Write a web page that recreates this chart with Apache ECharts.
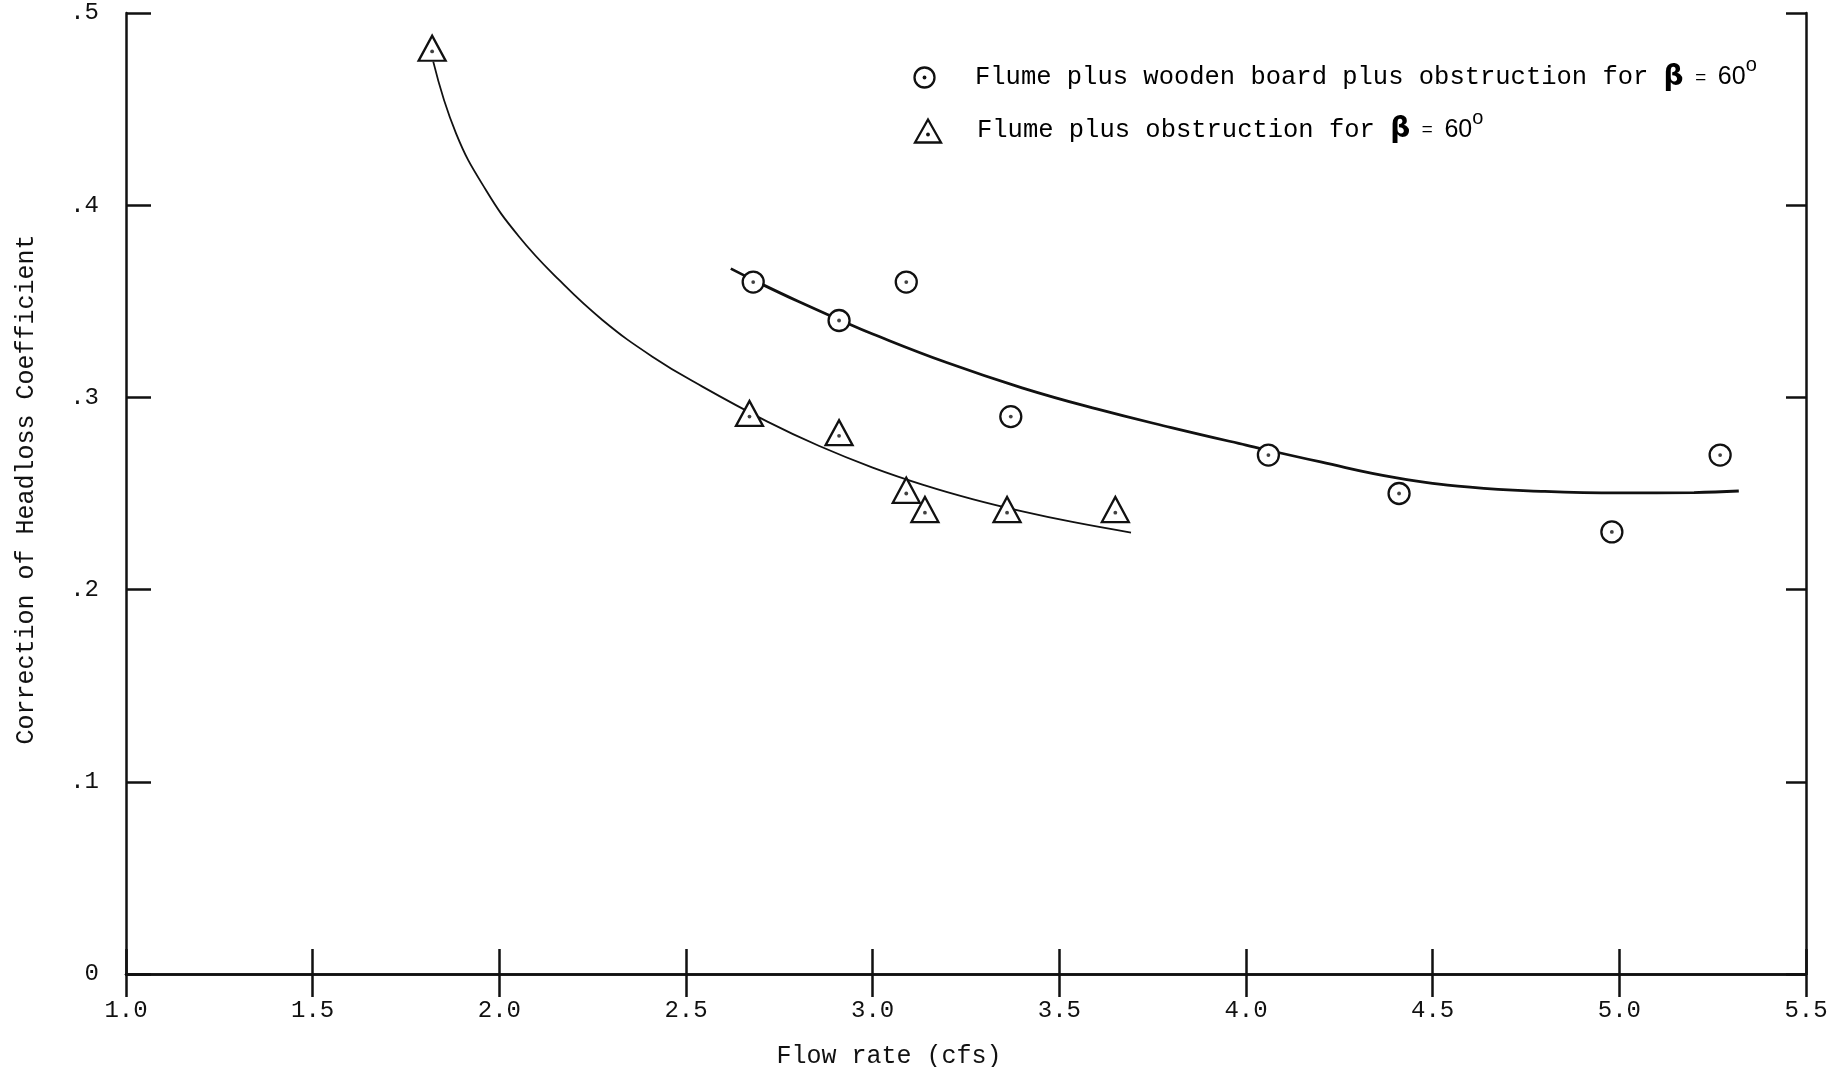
<!DOCTYPE html>
<html>
<head>
<meta charset="utf-8">
<script src="https://cdn.jsdelivr.net/npm/echarts@6/dist/echarts.min.js"></script>
<style>
  html, body { margin: 0; padding: 0; background: #ffffff; }
  #chart { width: 1837px; height: 1067px; }
</style>
</head>
<body>
<div id="chart"></div>
<script>
// Correction of headloss coefficient against flow rate, beta = 60 degrees

// axis tick labels
const xTickLabels = ['1.0', '1.5', '2.0', '2.5', '3.0', '3.5', '4.0', '4.5', '5.0', '5.5'];
const yTickLabels = ['0', '.1', '.2', '.3', '.4', '.5'];

// measured points: flume plus wooden board plus obstruction
const boardFlow = [2.68, 2.91, 3.09, 3.37, 4.06, 4.41, 4.98, 5.27];
const boardCorr = [0.36, 0.34, 0.36, 0.29, 0.27, 0.25, 0.23, 0.27];

// measured points: flume plus obstruction
const plainFlow = [1.82, 2.67, 2.91, 3.09, 3.14, 3.36, 3.65];
const plainCorr = [0.48, 0.29, 0.28, 0.25, 0.24, 0.24, 0.24];

// hand-faired curves through each set
const boardFitFlow = [2.62, 2.70, 2.80, 2.91, 3.00, 3.20, 3.40, 3.60, 3.80, 4.00, 4.20, 4.40, 4.60, 4.80, 5.00, 5.20, 5.32];
const boardFitCorr = [0.3670, 0.3592, 0.3500, 0.3405, 0.3330, 0.3180, 0.3050, 0.2940, 0.2843, 0.2752, 0.2664, 0.2583, 0.2533, 0.2511, 0.2503, 0.2505, 0.2513];
const plainFitFlow = [1.823, 1.884, 1.964, 2.053, 2.160, 2.276, 2.410, 2.544, 2.718, 2.857, 3.000, 3.142, 3.267, 3.401, 3.535, 3.692];
const plainFitCorr = [0.4747, 0.4374, 0.4079, 0.3836, 0.3611, 0.3403, 0.3212, 0.3056, 0.2874, 0.2747, 0.2635, 0.2541, 0.2471, 0.2407, 0.2352, 0.2297];

const seriesNames = [
  'Flume plus wooden board plus obstruction for \u03B2 = 60\u00B0',
  'Flume plus obstruction for \u03B2 = 60\u00B0'
];

const INK = '#111111';
const MONO = '"Liberation Mono", "DejaVu Sans Mono", monospace';

const zip = (xs, ys) => xs.map((x, i) => [x, ys[i]]);

const TRIANGLE = 'path://M0,-17L-14.5,10L14.5,10Z';

const axisLineStyle = { color: INK, width: 2.5 };

function frameAxis(extra) {
  return Object.assign({
    type: 'value',
    axisLine: { show: true, lineStyle: axisLineStyle },
    axisTick: { show: true, inside: true, length: 25, lineStyle: { color: INK, width: 2.5 } },
    splitLine: { show: false },
    axisLabel: { show: false }
  }, extra);
}

const legendRich = {
  t: { fontFamily: MONO, fontSize: 25.5, color: INK, lineHeight: 44 },
  b: { fontFamily: '"DejaVu Sans", sans-serif', fontWeight: 'bold', fontSize: 28, color: INK, lineHeight: 44 },
  e: { fontFamily: MONO, fontSize: 19, color: INK, lineHeight: 44 },
  n: { fontFamily: '"Liberation Sans", sans-serif', fontSize: 25, color: INK, lineHeight: 44 },
  s: { fontFamily: '"Liberation Sans", sans-serif', fontSize: 20, color: INK, verticalAlign: 'top' }
};

// legend keys, drawn as plain shapes
function circleKey(cx, cy) {
  return [
    { type: 'circle', z: 10, shape: { cx: cx, cy: cy, r: 10 }, style: { fill: '#ffffff', stroke: INK, lineWidth: 2.3 } },
    { type: 'circle', z: 11, shape: { cx: cx, cy: cy, r: 1.9 }, style: { fill: INK } }
  ];
}
function triangleKey(cx, cy) {
  return [
    { type: 'polygon', z: 10, shape: { points: [[cx, cy - 14], [cx - 13, cy + 9], [cx + 13, cy + 9]] }, style: { fill: '#ffffff', stroke: INK, lineWidth: 2.3 } },
    { type: 'circle', z: 11, shape: { cx: cx, cy: cy + 1, r: 1.9 }, style: { fill: INK } }
  ];
}

const chart = echarts.init(document.getElementById('chart'), null, { renderer: 'canvas' });

chart.setOption({
  backgroundColor: '#ffffff',
  animation: false,
  grid: { left: 126, right: 31, top: 13, bottom: 93, containLabel: false, outerBoundsMode: 'none' },
  xAxis: [
    frameAxis({
      min: 1.0, max: 5.5, interval: 0.5, position: 'bottom',
      axisLabel: {
        show: true, margin: 25, fontFamily: MONO, fontSize: 24, color: INK,
        formatter: v => xTickLabels[Math.round((v - 1.0) / 0.5)]
      },
      name: 'Flow rate (cfs)', nameLocation: 'middle', nameGap: 70,
      nameTextStyle: { fontFamily: MONO, fontSize: 25, color: INK, padding: [0, 154, 0, 0] }
    }),
    frameAxis({ min: 1.0, max: 5.5, interval: 0.5, position: 'top', axisTick: { show: true, inside: true, length: 23, lineStyle: { color: INK, width: 2.5 } } })
  ],
  yAxis: [
    frameAxis({
      min: 0, max: 0.5, interval: 0.1, position: 'left',
      axisLabel: {
        show: true, margin: 27, fontFamily: MONO, fontSize: 24, color: INK,
        formatter: v => yTickLabels[Math.round(v / 0.1)]
      },
      name: 'Correction of Headloss Coefficient', nameLocation: 'middle', nameGap: 87,
      nameTextStyle: { fontFamily: MONO, fontSize: 25, color: INK, padding: [0, 0, 0, 8] }
    }),
    frameAxis({ min: 0, max: 0.5, interval: 0.1, position: 'right', axisTick: { show: true, inside: true, length: 20, lineStyle: { color: INK, width: 2.5 } } })
  ],
  series: [
    {
      name: seriesNames[0] + ' curve', type: 'line', silent: true, z: 2,
      data: zip(boardFitFlow, boardFitCorr),
      showSymbol: false, smooth: 0.45,
      lineStyle: { color: INK, width: 2.8 }
    },
    {
      name: seriesNames[1] + ' curve', type: 'line', silent: true, z: 2,
      data: zip(plainFitFlow, plainFitCorr),
      showSymbol: false, smooth: 0.45,
      lineStyle: { color: INK, width: 1.8 }
    },
    {
      name: seriesNames[0], type: 'scatter', z: 3,
      data: zip(boardFlow, boardCorr),
      symbol: 'circle', symbolSize: 21,
      itemStyle: { color: '#ffffff', borderColor: INK, borderWidth: 2.3, opacity: 1 }
    },
    {
      name: seriesNames[1], type: 'scatter', z: 3,
      data: zip(plainFlow, plainCorr),
      symbol: TRIANGLE, symbolSize: [27, 25], symbolOffset: [0, -3.2], symbolKeepAspect: false,
      itemStyle: { color: '#ffffff', borderColor: INK, borderWidth: 2.3, borderJoin: 'miter', opacity: 1 }
    },
    {
      name: seriesNames[0] + ' centre', type: 'scatter', z: 4, silent: true,
      data: zip(boardFlow, boardCorr),
      symbol: 'circle', symbolSize: 3.8, itemStyle: { color: INK }
    },
    {
      name: seriesNames[1] + ' centre', type: 'scatter', z: 4, silent: true,
      data: zip(plainFlow, plainCorr),
      symbol: 'circle', symbolSize: 3.8, itemStyle: { color: INK }
    }
  ],
  graphic: [].concat(
    circleKey(924.5, 77.5),
    triangleKey(928, 133.5),
    [
      {
        type: 'text', z: 10, x: 975, y: 77.5,
        style: {
          text: '{t|Flume plus wooden board plus obstruction for }{b|\u03B2}{e| = }{n|60}{s|o}',
          rich: legendRich, verticalAlign: 'middle', align: 'left'
        }
      },
      {
        type: 'text', z: 10, x: 977, y: 130,
        style: {
          text: '{t|Flume plus obstruction for }{b|\u03B2}{e| = }{n|60}{s|o}',
          rich: legendRich, verticalAlign: 'middle', align: 'left'
        }
      }
    ]
  )
});
</script>
</body>
</html>
